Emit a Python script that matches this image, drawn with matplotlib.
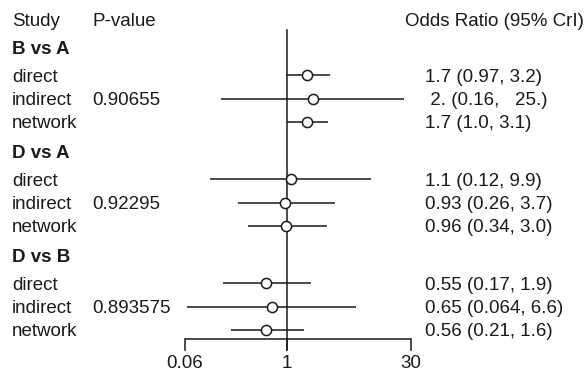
import matplotlib
matplotlib.use("Agg")
import matplotlib.pyplot as plt
import matplotlib.transforms as mtransforms

plt.rcParams['font.family'] = ['Liberation Sans', 'DejaVu Sans']

groups = ["B vs A", "D vs A", "D vs B"]
types = ["direct", "indirect", "network"]
pvalues = ["0.90655", "0.92295", "0.893575"]
or_est = [[1.7, 2.0, 1.7], [1.1, 0.93, 0.96], [0.55, 0.65, 0.56]]
or_low = [[0.97, 0.16, 1.0], [0.12, 0.26, 0.34], [0.17, 0.064, 0.21]]
or_high = [[3.2, 25.0, 3.1], [9.9, 3.7, 3.0], [1.9, 6.6, 1.6]]
or_text = [["1.7 (0.97, 3.2)", " 2. (0.16,   25.)", "1.7 (1.0, 3.1)"],
           ["1.1 (0.12, 9.9)", "0.93 (0.26, 3.7)", "0.96 (0.34, 3.0)"],
           ["0.55 (0.17, 1.9)", "0.65 (0.064, 6.6)", "0.56 (0.21, 1.6)"]]
xticks = [0.06, 1, 30]
xticklabels = ["0.06", "1", "30"]

W, H = 587, 373
fig = plt.figure(figsize=(W / 100, H / 100), dpi=100)
x0, x1 = 185, 411
ax = fig.add_axes([x0 / W, 0, (x1 - x0) / W, 1])
ax.set_xscale('log')
ax.set_xlim(xticks[0], xticks[-1])
ax.set_ylim(H, 0)
ax.axis('off')

tr = mtransforms.blended_transform_factory(fig.transFigure, ax.transData)
fs = 13.5
lw = 1.1
col = '#1a1a1a'

def T(xpx, y, s, **kw):
    ax.text(xpx / W, y, s, transform=tr, fontsize=fs, va='center_baseline',
            clip_on=False, color=col, **kw)

header_y = 20
T(12, header_y, "Study")
T(92, header_y, "P-value")
T(405, header_y, "Odds Ratio (95% CrI)")

for g, name in enumerate(groups):
    gy = 47 + g * 104
    T(12, gy, name, fontweight='bold')
    for i, t in enumerate(types):
        y = gy + 28 + i * 23.5
        T(12, y, t)
        if t == "indirect":
            T(92, y, pvalues[g])
        T(425, y, or_text[g][i])
        ax.plot([or_low[g][i], or_high[g][i]], [y, y], color=col, lw=lw,
                solid_capstyle='butt', zorder=2)
        ax.plot([or_est[g][i]], [y], marker='o', ms=7.3, mfc='white',
                mec=col, mew=lw, zorder=3)

# reference line at 1
axis_y = 339
tick_len = 11
ax.plot([1, 1], [30, axis_y + tick_len], color=col, lw=lw, zorder=1)
ax.plot([xticks[0], xticks[-1]], [axis_y, axis_y], color=col, lw=lw,
        solid_capstyle='projecting')
for xv, lab in zip(xticks, xticklabels):
    ax.plot([xv, xv], [axis_y, axis_y + tick_len], color=col, lw=lw,
            clip_on=False)
    ax.text(xv, 362, lab, fontsize=fs, ha='center', va='center_baseline',
            clip_on=False, color=col)

fig.savefig("out.png", dpi=100)
